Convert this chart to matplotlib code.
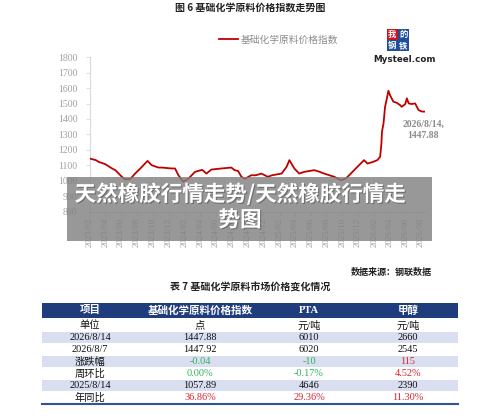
import matplotlib
matplotlib.use('Agg')
import matplotlib.pyplot as plt
import matplotlib.dates as mdates
import matplotlib.patheffects as pe
import pandas as pd

plt.rcParams['font.family'] = ['Liberation Serif', 'Noto Sans CJK SC', 'DejaVu Sans']
CJK = ['Noto Sans CJK SC', 'DejaVu Sans']
SERIF = ['Liberation Serif', 'Noto Sans CJK SC']

# 基础化学原料价格指数
dates = ['2023-02-01', '2023-02-24', '2023-03-06', '2023-04-01', '2023-04-27', '2023-05-10',
         '2023-06-04', '2023-06-17', '2023-07-06', '2023-07-25', '2023-08-20', '2023-08-26',
         '2023-09-11', '2023-09-27', '2023-10-23', '2023-11-05', '2023-12-13', '2023-12-26',
         '2024-01-08', '2024-01-27', '2024-02-16', '2024-03-12', '2024-03-24', '2024-04-09',
         '2024-04-25', '2024-05-14', '2024-06-22', '2024-07-30', '2024-08-12', '2024-08-25',
         '2024-09-07', '2024-09-20', '2024-10-15', '2024-11-02', '2024-11-23', '2024-12-18',
         '2025-01-03', '2025-02-09', '2025-02-28', '2025-03-11', '2025-03-30', '2025-04-18',
         '2025-05-07', '2025-06-15', '2025-07-01', '2025-07-23', '2025-08-31', '2025-09-26',
         '2025-10-15', '2025-11-03', '2025-11-22', '2025-12-11', '2025-12-24', '2026-01-06',
         '2026-01-25', '2026-02-13', '2026-02-24', '2026-03-01', '2026-03-03', '2026-03-09',
         '2026-03-15', '2026-03-22', '2026-03-28', '2026-04-03', '2026-04-16', '2026-04-29',
         '2026-05-12', '2026-05-18', '2026-06-01', '2026-06-07', '2026-06-14', '2026-06-26',
         '2026-07-09', '2026-07-22', '2026-08-01', '2026-08-07', '2026-08-14']
index_values = [1143, 1133, 1122, 1107, 1079, 1068,
                1025, 1008, 1010, 1046, 1089, 1100,
                1128, 1100, 1085, 1085, 1079, 1079,
                1035, 993, 1014, 1057, 1063, 1070,
                1046, 1072, 1079, 1085, 1068, 1063,
                1025, 1012, 1035, 1035, 1046, 1025,
                1035, 1046, 1089, 1133, 1079, 1046,
                1057, 1068, 1060, 1046, 1025, 1003,
                1014, 1046, 1079, 1111, 1133, 1111,
                1120, 1133, 1155, 1242, 1317, 1371,
                1479, 1534, 1583, 1555, 1512, 1505,
                1490, 1479, 1497, 1534, 1501, 1497,
                1501, 1458, 1450, 1447.92, 1447.88]

y_ticks = list(range(800, 1900, 100))

table_header = ['项目', '基础化学原料价格指数', 'PTA', '甲醇']
row_labels = ['单位', '2026/8/14', '2026/8/7', '涨跌幅', '周环比', '2025/8/14', '年同比']
col_index = ['点', '1447.88', '1447.92', '-0.04', '0.00%', '1057.89', '36.86%']
col_pta = ['元/吨', '6010', '6020', '-10', '-0.17%', '4646', '29.36%']
col_meoh = ['元/吨', '2660', '2545', '115', '4.52%', '2390', '11.30%']
change_rows = [3, 4, 6]

RED = '#C00000'
GRAY = '#a0a0a0'
NAVY = '#1f3c7c'

fig = plt.figure(figsize=(5, 4.2), dpi=100)

# --- 折线图 ---
ax = fig.add_axes([90 / 500, 1 - 211.5 / 420, 335 / 500, 154.2 / 420])
x = pd.to_datetime(dates)
ax.plot(x, index_values, color=RED, lw=1.3, zorder=3)
ax.set_ylim(800, 1800)
ax.set_yticks(y_ticks)
ax.set_xlim(pd.Timestamp('2023-02-01'), pd.Timestamp('2026-08-16'))
ax.xaxis.set_major_locator(mdates.MonthLocator(bymonth=[2, 4, 6, 8, 10, 12]))
ax.xaxis.set_major_formatter(mdates.DateFormatter('%Y/%m'))
for s in ['top', 'right']:
    ax.spines[s].set_visible(False)
for s in ['left', 'bottom']:
    ax.spines[s].set_color('#d9d9d9')
    ax.spines[s].set_linewidth(0.8)
ax.tick_params(axis='y', length=3, width=0.6, color='#d9d9d9', pad=6,
               labelsize=7, labelcolor=GRAY)
ax.tick_params(axis='x', length=3, width=0.6, color='#d9d9d9', pad=1.5,
               labelsize=6.5, labelcolor=GRAY, labelrotation=90)
ax.annotate('2026/8/14,\n1447.88', xy=(x[-1], index_values[-1]), xytext=(-1, -6),
            textcoords='offset points', ha='center', va='top', fontsize=7,
            color='#8c8c8c', fontweight='bold', linespacing=1.25)

# --- 其余文字、水印与表格 (像素坐标) ---
ov = fig.add_axes([0, 0, 1, 1], zorder=10)
ov.set_xlim(0, 500)
ov.set_ylim(420, 0)
ov.axis('off')
ov.patch.set_alpha(0)

ov.text(250, 8, '图 6 基础化学原料价格指数走势图', ha='center', va='center',
        fontsize=7.2, fontweight='bold', family=CJK, color='#222222')
ov.plot([219, 238], [39, 39], color=RED, lw=1.3)
ov.text(241, 39.5, '基础化学原料价格指数', ha='left', va='center', fontsize=7,
        family=CJK, color='#8c8c8c')

# Mysteel 标识
logo_cells = [(387, 29, '我', '#c8161d'), (398, 29, '的', '#1f4e9c'),
              (387, 40, '钢', '#1f4e9c'), (398, 40, '铁', '#1f4e9c')]
for lx, ly, ch, c in logo_cells:
    ov.add_patch(plt.Rectangle((lx, ly), 10.5, 10.5, color=c, lw=0))
    ov.text(lx + 5.2, ly + 5.4, ch, ha='center', va='center', fontsize=6,
            family=CJK, color='white', fontweight='bold')
ov.text(405, 59, 'Mysteel.com', ha='center', va='center', fontsize=6.3,
        family=['DejaVu Sans'], color='#222222', fontweight='bold')

# 灰色水印
ov.add_patch(plt.Rectangle((67, 177), 365, 64, color='#7f7f7f', alpha=0.8, lw=0))
shadow = [pe.withSimplePatchShadow(offset=(0.8, -0.8), shadow_rgbFace='#555555', alpha=0.6)]
ov.text(240, 194, '天然橡胶行情走势/天然橡胶行情走', ha='center', va='center',
        fontsize=15.5, fontweight='bold', family=CJK, color='white', path_effects=shadow)
ov.text(240, 220, '势图', ha='center', va='center', fontsize=15.5,
        fontweight='bold', family=CJK, color='white', path_effects=shadow)

ov.text(432, 272, '数据来源：钢联数据', ha='right', va='center', fontsize=6.5,
        fontweight='bold', family=CJK, color='#222222')
ov.text(250, 288, '表 7 基础化学原料市场价格变化情况', ha='center', va='center',
        fontsize=7.2, fontweight='bold', family=CJK, color='#222222')

col_x = [90, 200, 309, 408]
ov.add_patch(plt.Rectangle((42, 303), 416, 15, color=NAVY, lw=0))
for cx, h in zip(col_x, table_header):
    ov.text(cx, 310.5, h, ha='center', va='center', fontsize=7.6, fontweight='bold',
            family=SERIF, color='white')

row_top = 319
row_h = 12
for i, lab in enumerate(row_labels):
    yc = row_top + row_h * i + row_h / 2
    if i % 2 == 1:
        ov.add_patch(plt.Rectangle((42, row_top + row_h * i + 0.5), 416, row_h - 1,
                                   color='#d9dff0', lw=0))
    cells = [lab, col_index[i], col_pta[i], col_meoh[i]]
    for j, (cx, val) in enumerate(zip(col_x, cells)):
        color = '#111111'
        if i in change_rows and j > 0:
            color = '#2db45a' if float(val.strip('%')) <= 0 else '#d9252e'
        ov.text(cx, yc + 0.5, val, ha='center', va='center', fontsize=7.4,
                family=SERIF, color=color)
ov.plot([42, 458], [row_top + row_h * 7 + 0.5] * 2, color='#2f5597', lw=1.5)

fig.savefig('out.png', dpi=100)
